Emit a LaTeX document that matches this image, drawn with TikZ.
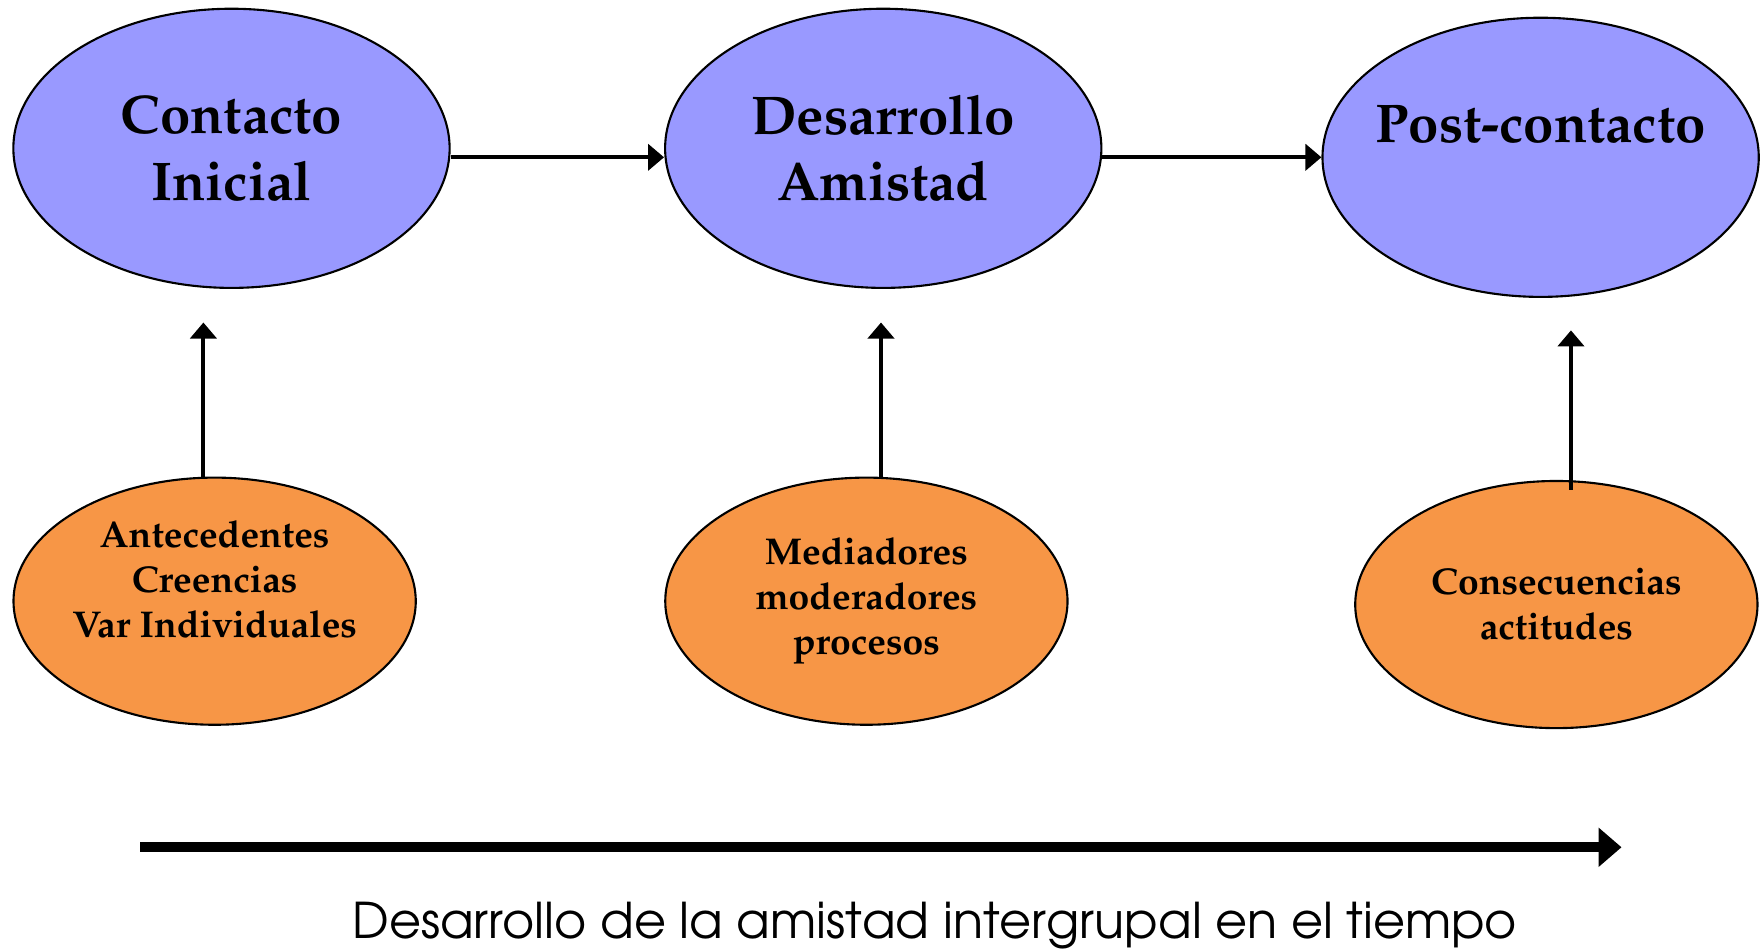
\documentclass[tikz,border=0pt]{standalone}
\usepackage[T1]{fontenc}
\usepackage{mathpazo}
\usepackage{avant}
\usepackage{tikz}
\usetikzlibrary{arrows.meta,shapes.geometric}
\usetikzlibrary{positioning}

\definecolor{colEtapa}{RGB}{153,153,255}
\definecolor{colFactor}{RGB}{247,150,70}

\begin{document}
\begin{tikzpicture}[x=0.0112372cm, y=-0.0112372cm,
  etapa/.style={ellipse, draw, line width=0.6pt, fill=colEtapa, inner ysep=0pt, inner xsep=-4mm,
    minimum width=4.36cm, minimum height=2.79cm, align=center,
    font=\fontsize{15.5}{18.9}\selectfont\bfseries},
  factor/.style={ellipse, draw, line width=0.6pt, fill=colFactor, inner ysep=0pt, inner xsep=-4mm,
    minimum width=4.02cm, minimum height=2.47cm, align=center,
    font=\fontsize{10.6}{12.8}\selectfont\bfseries},
  flecha/.style={-{Triangle[length=1.6mm,width=2.6mm]}, line width=1.15pt},
  tiempo/.style={-{Triangle[length=2.3mm,width=3.8mm]}, line width=2.8pt}]
  \useasboundingbox (0,0) rectangle (1568,847);

  % etapas
  \node[etapa] (ci) at (206,132)  {Contacto\\Inicial};
  \node[etapa] (da) at (786,132)  {Desarrollo\\Amistad};
  \node[etapa] (pc) at (1371,140) {Post-contacto\\\mbox{}};

  % factores
  \node[factor] (ant) at (191,535)  {Antecedentes\\Creencias\\Var Individuales\\\mbox{}};
  \node[factor] (med) at (771,535)  {Mediadores\\moderadores\\procesos};
  \node[factor] (con) at (1385,538) {Consecuencias\\actitudes};

  \coordinate (t1) at (181,287);
  \coordinate (t2) at (784,287);
  \coordinate (t3) at (1398,294);
  \coordinate (s0) at (125,754);
  \coordinate (s1) at (1443,754);

  \draw[flecha] (ci.east |- pc.west) -- (da.west |- pc.west);
  \draw[flecha] (da.east |- pc.west) -- (pc.west);
  \draw[flecha] (t1 |- ant.north) -- (t1);
  \draw[flecha] (t2 |- med.north) -- (t2);
  \draw[flecha] ([yshift=-1mm]t3 |- con.north) -- (t3);

  \draw[tiempo] (s0) -- (s1);
  \node[font=\sffamily\fontsize{14}{17}\selectfont] (lema) at (832,823)
    {Desarrollo de la amistad intergrupal en el tiempo};
\end{tikzpicture}
\end{document}
